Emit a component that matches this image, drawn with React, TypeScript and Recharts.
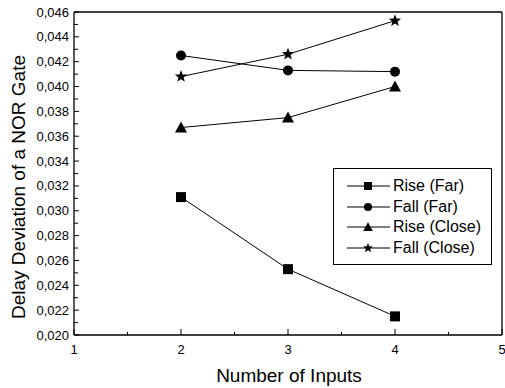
import React from "react";
import {
  LineChart,
  Line,
  XAxis,
  YAxis,
  Legend,
  ReferenceLine,
} from "recharts";

const inputs = [2, 3, 4];
const riseFar = [0.0311, 0.0253, 0.0215];
const fallFar = [0.0425, 0.0413, 0.0412];
const riseClose = [0.0367, 0.0375, 0.04];
const fallClose = [0.0408, 0.0426, 0.0453];

const yMajor = [0.02, 0.022, 0.024, 0.026, 0.028, 0.03, 0.032, 0.034, 0.036, 0.038, 0.04, 0.042, 0.044, 0.046];
const yMinor = [0.021, 0.023, 0.025, 0.027, 0.029, 0.031, 0.033, 0.035, 0.037, 0.039, 0.041, 0.043, 0.045];
const xMajor = [1, 2, 3, 4, 5];
const xMinor = [1.5, 2.5, 3.5, 4.5];

const FONT = "'Liberation Sans', Arial, sans-serif";

const data = inputs.map((x, i) => ({
  x,
  riseFar: riseFar[i],
  fallFar: fallFar[i],
  riseClose: riseClose[i],
  fallClose: fallClose[i],
}));

type Shape = "square" | "circle" | "triangle" | "star";

function Marker({ shape, cx, cy, s = 1 }: { shape: Shape; cx: number; cy: number; s?: number }) {
  if (shape === "square") {
    return <rect x={cx - 5 * s} y={cy - 5 * s} width={10 * s} height={10 * s} fill="#000" />;
  }
  if (shape === "circle") {
    return <circle cx={cx} cy={cy} r={5 * s} fill="#000" />;
  }
  if (shape === "triangle") {
    return (
      <polygon
        points={`${cx},${cy - 6 * s} ${cx + 6 * s},${cy + 5 * s} ${cx - 6 * s},${cy + 5 * s}`}
        fill="#000"
      />
    );
  }
  const pts: string[] = [];
  for (let k = 0; k < 10; k++) {
    const r = (k % 2 === 0 ? 6.5 : 2.7) * s;
    const a = -Math.PI / 2 + (k * Math.PI) / 5;
    pts.push(`${cx + r * Math.cos(a)},${cy + r * Math.sin(a)}`);
  }
  return <polygon points={pts.join(" ")} fill="#000" />;
}

const series: { key: string; name: string; shape: Shape }[] = [
  { key: "riseFar", name: "Rise (Far)", shape: "square" },
  { key: "fallFar", name: "Fall (Far)", shape: "circle" },
  { key: "riseClose", name: "Rise (Close)", shape: "triangle" },
  { key: "fallClose", name: "Fall (Close)", shape: "star" },
];

const dotFor = (shape: Shape) => (props: any) => (
  <g key={`${shape}-${props.index}`}>
    <Marker shape={shape} cx={props.cx} cy={props.cy} />
  </g>
);

function YTick({ x, y, payload }: any) {
  const v = payload.value;
  const major = yMajor.some((m) => Math.abs(m - v) < 1e-9);
  return (
    <g>
      <line x1={x} x2={x + (major ? 5 : 4)} y1={y} y2={y} stroke="#000" />
      {major && (
        <text
          x={x - 5}
          y={y}
          textAnchor="end"
          dominantBaseline="central"
          fontSize={13}
          fontFamily={FONT}
          fill="#000"
        >
          {v.toFixed(3).replace(".", ",")}
        </text>
      )}
    </g>
  );
}

function XTick({ x, y, payload }: any) {
  const v = payload.value;
  const major = xMajor.includes(v);
  return (
    <g>
      <line x1={x} x2={x} y1={y} y2={y - (major ? 6 : 3)} stroke="#000" />
      {major && (
        <text
          x={x}
          y={y + 14}
          textAnchor="middle"
          dominantBaseline="central"
          fontSize={13}
          fontFamily={FONT}
          fill="#000"
        >
          {v}
        </text>
      )}
    </g>
  );
}

function LegendBox() {
  return (
    <div
      style={{
        border: "1px solid #000",
        background: "#fff",
        width: 157,
        padding: "7px 0 6px 0",
        fontFamily: FONT,
        fontSize: 16,
        color: "#000",
      }}
    >
      {series.map((s) => (
        <div
          key={s.key}
          style={{ display: "flex", alignItems: "center", height: 20.5 }}
        >
          <svg width={59} height={20} style={{ display: "block" }}>
            <line x1={13} x2={56} y1={10} y2={10} stroke="#000" />
            <Marker shape={s.shape} cx={34} cy={10} s={0.8} />
          </svg>
          <span style={{ lineHeight: "20px" }}>{s.name}</span>
        </div>
      ))}
    </div>
  );
}

export default function App() {
  // svg is a bit wider than the page so the "5" gets cut at the edge like the original
  return (
    <div style={{ width: 525, height: 388, position: "relative" }}>
      <style>{"body{margin:0;overflow:hidden}"}</style>
      <LineChart
        width={525}
        height={388}
        data={data}
        margin={{ top: 12, right: 23, left: 0, bottom: 0 }}
      >
        <XAxis
          dataKey="x"
          type="number"
          domain={[1, 5]}
          ticks={[...xMajor, ...xMinor].sort((a, b) => a - b)}
          interval={0}
          height={53}
          tickSize={0}
          tickMargin={0}
          tick={<XTick />}
          axisLine={{ stroke: "#000", strokeWidth: 1.3 }}
          label={{
            content: () => (
              <text
                x={289}
                y={375}
                textAnchor="middle"
                dominantBaseline="central"
                fontSize={19}
                fontFamily={FONT}
                fill="#000"
              >
                Number of Inputs
              </text>
            ),
          }}
        />
        <YAxis
          type="number"
          domain={[0.02, 0.046]}
          ticks={[...yMajor, ...yMinor].sort((a, b) => a - b)}
          interval={0}
          width={74}
          tickSize={0}
          tickMargin={0}
          tick={<YTick />}
          axisLine={{ stroke: "#000", strokeWidth: 1.3 }}
          label={{
            content: () => (
              <text
                x={18}
                y={187}
                transform="rotate(-90 18 187)"
                textAnchor="middle"
                dominantBaseline="central"
                fontSize={19}
                fontFamily={FONT}
                fill="#000"
              >
                Delay Deviation of a NOR Gate
              </text>
            ),
          }}
        />
        <ReferenceLine y={0.046} stroke="#000" strokeWidth={1.3} />
        <ReferenceLine x={5} stroke="#000" strokeWidth={1.3} />
        {series.map((s) => (
          <Line
            key={s.key}
            dataKey={s.key}
            name={s.name}
            stroke="#000"
            strokeWidth={1}
            dot={dotFor(s.shape)}
            activeDot={false}
            isAnimationActive={false}
          />
        ))}
        <Legend
          layout="vertical"
          align="center"
          verticalAlign="middle"
          content={() => <LegendBox />}
          wrapperStyle={{ position: "absolute", left: 333, top: 168, width: "auto", height: "auto" }}
        />
      </LineChart>
    </div>
  );
}
